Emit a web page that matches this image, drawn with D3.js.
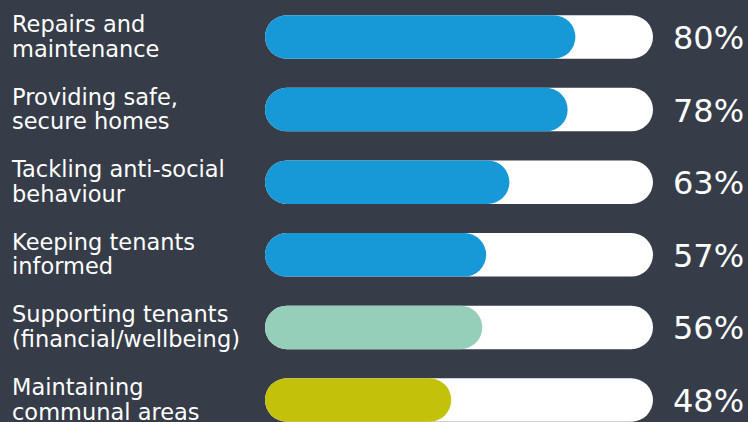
<!DOCTYPE html>
<meta charset="utf-8">
<head>
	<script src="https://cdn.jsdelivr.net/npm/d3@7"></script>
	<style>
		body { margin: 0; background: #363c48; }
		svg { display: block; font-family: "DejaVu Sans", Verdana, sans-serif; }
		.label { fill: #ffffff; font-size: 22.5px; }
		.pct { fill: #ffffff; font-size: 32px; }
	</style>
</head>
<body>
	<svg id="svg"></svg>
</body>
<script>
	var labels = [
		["Repairs and", "maintenance"],
		["Providing safe,", "secure homes"],
		["Tackling anti-social", "behaviour"],
		["Keeping tenants", "informed"],
		["Supporting tenants", "(financial/wellbeing)"],
		["Maintaining", "communal areas"]
	];
	var values = [80, 78, 63, 57, 56, 48];
	var colors = ['#1798d7', '#1798d7', '#1798d7', '#1798d7', '#95cfb9', '#c3c10a'];

	var width = 748, height = 422;
	var barH = 43.5;

	var svg = d3.select("#svg")
		.attr('width', width)
		.attr('height', height);

	svg.append("rect")
		.attr("width", width)
		.attr("height", height)
		.attr("fill", "#363c48");

	// one row per category, centres ~72px apart
	var y = d3.scalePoint()
		.domain(d3.range(values.length))
		.range([37, 37 + 72.6 * 5]);

	var x = d3.scaleLinear().domain([0, 100]).range([265, 653]);

	var rows = svg.selectAll("g.row")
		.data(values)
		.enter()
		.append("g")
		.attr("class", "row")
		.attr("transform", (d, i) => "translate(0," + y(i) + ")");

	// white track
	rows.append("rect")
		.attr("x", x(0))
		.attr("y", -barH / 2)
		.attr("width", x(100) - x(0))
		.attr("height", barH)
		.attr("rx", barH / 2)
		.attr("fill", "#ffffff");

	// filled part
	rows.append("rect")
		.attr("x", x(0))
		.attr("y", -barH / 2)
		.attr("width", d => x(d) - x(0))
		.attr("height", barH)
		.attr("rx", barH / 2)
		.attr("fill", (d, i) => colors[i]);

	rows.append("text")
		.attr("class", "pct")
		.attr("x", 673)
		.attr("y", 12)
		.text(d => d + "%");

	var lbl = rows.append("text")
		.attr("class", "label")
		.attr("x", 12)
		.attr("y", -5);

	lbl.selectAll("tspan")
		.data((d, i) => labels[i])
		.enter()
		.append("tspan")
		.attr("x", 12)
		.attr("dy", (d, j) => j === 0 ? 0 : 24.5)
		.text(d => d);
</script>
